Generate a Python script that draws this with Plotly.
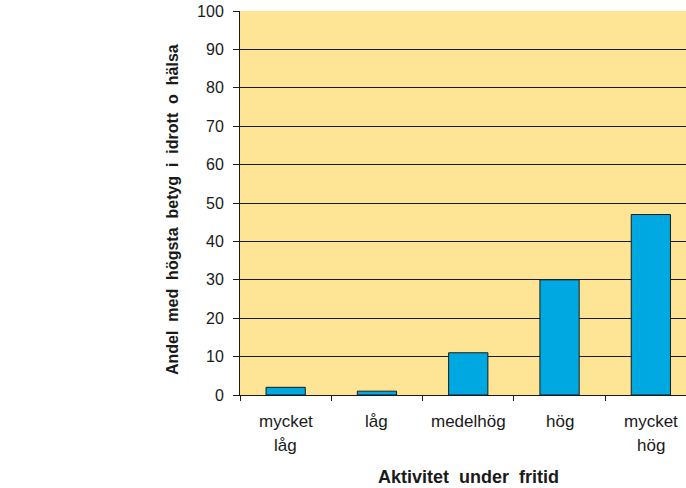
import plotly.graph_objects as go

categories = ["mycket låg", "låg", "medelhög", "hög", "mycket hög"]
label_line1 = ["mycket", "låg", "medelhög", "hög", "mycket"]
label_line2 = ["låg", "", "", "", "hög"]
values = [2, 1, 11, 30, 47]
y_ticks = list(range(0, 101, 10))

FONT = "Liberation Sans, Arial, sans-serif"
TXT = "#1a1a1a"
W, H = 686, 488
L, R, T, B = 240, 0, 11, 93

fig = go.Figure()
fig.add_trace(go.Bar(
    x=categories, y=values,
    marker=dict(color="#00A8E2", line=dict(color="#1a1a1a", width=1)),
    width=0.43,
))

plot_top, plot_bot = T, H - B


def py(pix):
    return (plot_bot - pix) / (plot_bot - plot_top)


def px(pix):
    return (pix - L) / (W - L - R)


SP = " \u00a0"
annotations = []
for i, (a, b) in enumerate(zip(label_line1, label_line2)):
    annotations.append(dict(x=categories[i], y=py(421), xref="x", yref="paper", text=a,
                            yanchor="middle", showarrow=False,
                            font=dict(family=FONT, size=17, color=TXT)))
    if b:
        annotations.append(dict(x=categories[i], y=py(445), xref="x", yref="paper", text=b,
                                yanchor="middle", showarrow=False,
                                font=dict(family=FONT, size=17, color=TXT)))
annotations.append(dict(x=categories[2], y=py(477), xref="x", yref="paper", yanchor="middle",
                        text="<b>" + SP.join(["Aktivitet", "under", "fritid"]) + "</b>",
                        showarrow=False, font=dict(family=FONT, size=18, color=TXT)))
annotations.append(dict(x=px(172), y=py(210), xref="paper", yref="paper",
                        xanchor="center", yanchor="middle", textangle=-90,
                        text="<b>" + SP.join("Andel med högsta betyg i idrott o hälsa".split()) + "</b>",
                        showarrow=False, font=dict(family=FONT, size=16, color=TXT)))

fig.update_layout(
    width=W, height=H,
    margin=dict(l=L, r=R, t=T, b=B),
    paper_bgcolor="white", plot_bgcolor="#FEE596",
    showlegend=False,
    font=dict(family=FONT, size=16, color=TXT),
    annotations=annotations,
    xaxis=dict(
        type="category", range=[-0.5, 4.385],
        showticklabels=False, tickson="boundaries",
        ticks="outside", ticklen=5, tickcolor="#1a1a1a", tickwidth=1,
        showgrid=False, showline=True, linecolor="#1a1a1a", linewidth=1,
        zeroline=False,
    ),
    yaxis=dict(
        range=[0, 100], tickvals=y_ticks,
        ticks="outside", ticklen=6, tickcolor="#1a1a1a", tickwidth=1,
        showgrid=True, gridcolor="#1a1a1a", gridwidth=1,
        showline=True, linecolor="#1a1a1a", linewidth=1,
        zeroline=False, ticklabelstandoff=6, ticklabeloverflow="allow",
        tickfont=dict(family=FONT, size=16, color=TXT),
    ),
)

fig.write_html("out.html", config={"displayModeBar": False},
               post_script="document.body.style.margin='0px';")
